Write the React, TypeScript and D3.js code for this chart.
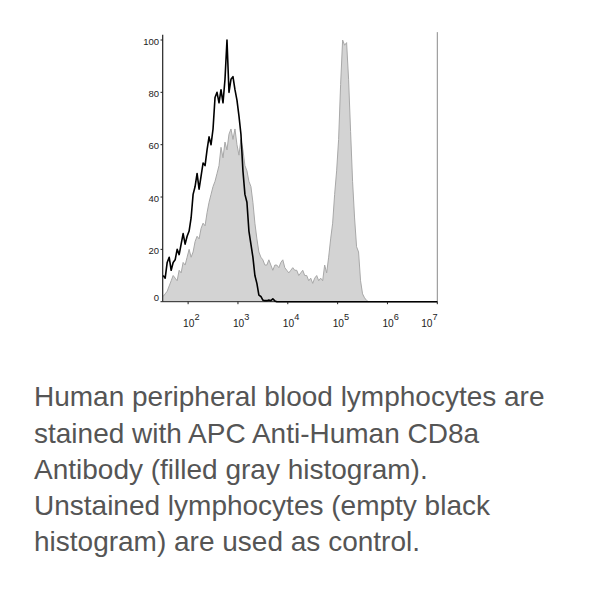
import React from 'react';
import * as d3 from 'd3';

// Histogram channels: log10 position of first bin and bin width (decades)
const binStart = 1.5;
const binWidth = 0.04;

// APC Anti-Human CD8a stained (filled gray)
const stainedCounts = [
  2, 3, 4, 6, 8, 10, 9, 8, 12, 11,
  15, 14, 17, 20, 17, 19, 23, 25, 24, 28,
  30, 29, 34, 38, 41, 44, 46, 49, 52, 59,
  55, 61, 58, 64, 66, 62, 66, 60, 56, 62,
  58, 52, 50, 46, 44, 38, 30, 24, 19, 17,
  16, 14, 14, 16, 14, 12, 14, 14, 13, 15,
  16, 13, 12, 11, 12, 13, 12, 12, 10, 11,
  12, 10, 10, 8, 9, 7, 9, 10, 8, 9,
  8, 14, 11, 17, 24, 30, 41, 50, 62, 83,
  100, 98, 99, 85, 65, 46, 32, 21, 19, 8,
  3, 1.5, 0.5, 0,
];

// Unstained control (empty black)
const unstainedCounts = [
  10, 9, 15, 17, 12, 15, 16, 20, 18, 22,
  26, 22, 25, 27, 32, 41, 44, 49, 43, 48,
  53, 52, 58, 63, 60, 66, 78, 80, 76, 81,
  76, 85, 100, 80, 85, 86, 81, 77, 71, 64,
  50, 41, 38, 27, 22, 17, 10, 7, 2.5, 2,
  0.6, 0.4, 0.4, 0.6, 0.4, 1.1, 0.3, 0,
];

const yTicks = [0, 20, 40, 60, 80, 100];
const xExponents = [2, 3, 4, 5, 6, 7];

const caption = [
  'Human peripheral blood lymphocytes are',
  'stained with APC Anti-Human CD8a',
  'Antibody (filled gray histogram).',
  'Unstained lymphocytes (empty black',
  'histogram) are used as control.',
];

const FONT = '"Liberation Sans", Arial, Helvetica, sans-serif';

const App: React.FC = () => {
  const x = d3.scaleLog().domain([Math.pow(10, 1.49), 1e7]).range([162.7, 437.3]);
  const y = d3.scaleLinear().domain([0, 100]).range([301.7, 40]);
  const [xMin, xMax] = x.range();
  const binX = (i: number) => x(Math.pow(10, binStart + i * binWidth));

  const area = d3
    .area<number>()
    .x((_, i) => binX(i))
    .y0(y(0))
    .y1((d) => y(d));

  const outline = d3
    .line<number>()
    .x((_, i) => binX(i))
    .y((d) => y(d));

  // control line keeps running along zero to the end of the axis
  const ctrlPts: [number, number][] = unstainedCounts.map((d, i) => [binX(i), y(d)]);
  ctrlPts.push([x(1e7), y(0)]);
  const ctrlLine = d3.line()(ctrlPts) || '';

  return (
    <svg
      width={590}
      height={608}
      style={{ position: 'absolute', left: 0, top: 0, background: '#fff' }}
      fontFamily={FONT}
    >
      <rect width={590} height={608} fill="#fff" />

      {/* stained histogram */}
      <path d={area(stainedCounts) || ''} fill="#d3d3d3" stroke="none" />
      <path d={outline(stainedCounts) || ''} fill="none" stroke="#a8a8a8" strokeWidth={1} />

      {/* frame */}
      <line x1={xMin} x2={xMin} y1={y(102)} y2={y(0)} stroke="#222" strokeWidth={1.2} />
      <line x1={xMax} x2={xMax} y1={y(103)} y2={y(0)} stroke="#8a8a8a" strokeWidth={1} />
      <line x1={xMin} x2={xMax} y1={y(0)} y2={y(0)} stroke="#222" strokeWidth={1} />

      {/* unstained histogram */}
      <path d={ctrlLine} fill="none" stroke="#000" strokeWidth={1.6} strokeLinejoin="round" />

      {/* y axis */}
      {yTicks.map((t) => (
        <g key={t}>
          <line x1={xMin - 2.2} x2={xMin} y1={y(t)} y2={y(t)} stroke="#222" strokeWidth={1} />
          <text
            x={159}
            y={t === 0 ? y(t) - 0.3 : y(t) + 4.7}
            textAnchor="end"
            fontSize={9.5}
            fill="#222"
          >
            {t}
          </text>
        </g>
      ))}

      {/* x axis */}
      {xExponents.map((e, i) => {
        const tx = x(Math.pow(10, e));
        const last = i === xExponents.length - 1;
        return (
          <g key={e}>
            <line x1={tx} x2={tx} y1={y(0)} y2={y(0) + 2.5} stroke="#222" strokeWidth={1} />
            <text
              x={last ? xMax + 0.3 : tx - 5}
              y={326.6}
              textAnchor={last ? 'end' : 'start'}
              fontSize={10.2}
              fill="#222"
            >
              10
              <tspan dy={-6.6} fontSize={9.2}>
                {e}
              </tspan>
            </text>
          </g>
        );
      })}

      {/* caption */}
      {caption.map((line, i) => (
        <text key={i} x={34} y={406.3 + i * 36.2} fontSize={28} fill="#555">
          {line}
        </text>
      ))}
    </svg>
  );
};

export default App;
